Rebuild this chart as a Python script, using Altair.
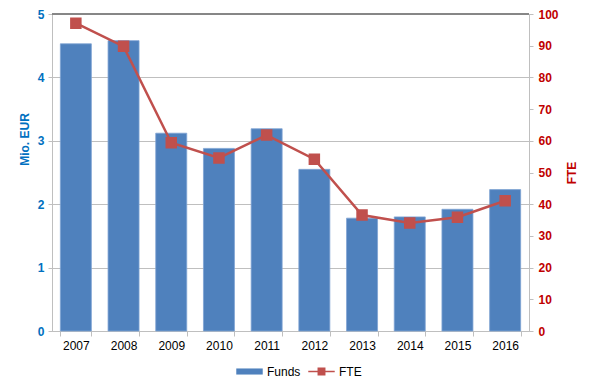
import altair as alt
import pandas as pd

years = ["2007", "2008", "2009", "2010", "2011", "2012", "2013", "2014", "2015", "2016"]
funds = [4.53, 4.58, 3.12, 2.88, 3.19, 2.55, 1.78, 1.80, 1.92, 2.23]
fte = [97.1, 89.8, 59.4, 54.6, 61.8, 54.2, 36.6, 34.1, 35.9, 41.1]

df = pd.DataFrame({"Year": years, "Funds": funds, "FTE": fte})

FONT = "Liberation Sans"
BLUE_TXT = "#0070C0"
RED_TXT = "#C00000"
BAR = "#4F81BD"
LINE = "#C0504D"

x = alt.X("Year:N", sort=years,
          scale=alt.Scale(paddingInner=0.35, paddingOuter=0.175),
          axis=alt.Axis(title=None, labelAngle=0, tickBand="extent", domainColor="#BFBFBF",
                        tickColor="#BFBFBF", tickSize=5, labelPadding=4, labelColor="#000000",
                        labelFontSize=12, labelFont=FONT, grid=False))

bars = alt.Chart(df).mark_bar(stroke="#7FA3D3", strokeWidth=0.8).encode(
    x=x,
    y=alt.Y("Funds:Q", scale=alt.Scale(domain=[0, 5], nice=False),
            axis=alt.Axis(title="Mio. EUR", values=[0, 1, 2, 3, 4, 5], format="d",
                          labelColor=BLUE_TXT, labelFontWeight="bold", labelFontSize=12,
                          labelFont=FONT, titleColor=BLUE_TXT, titleFontSize=12,
                          titleFont=FONT, titleFontWeight="bold", titlePadding=6,
                          titleY=125,
                          domainColor="#BFBFBF", tickColor="#BFBFBF", tickSize=4,
                          labelPadding=4, gridColor="#BFBFBF", grid=True)),
    fill=alt.Fill("lbl:N", scale=alt.Scale(domain=["Funds"], range=[BAR]),
                  legend=alt.Legend(title=None, orient="none", legendX=184, legendY=344,
                                    symbolType="M-1,-0.23H1V0.23H-1Z", symbolSize=700,
                                    symbolStrokeWidth=0, labelFontSize=12, labelFont=FONT,
                                    labelColor="#000000")),
).transform_calculate(lbl="'Funds'")

topline = alt.Chart(df).mark_rule(color="#868686", strokeWidth=1).encode(
    y=alt.datum(5, type="quantitative"),
)

left = alt.layer(bars, topline)

line = alt.Chart(df).mark_line(
    strokeWidth=2.5,
    point=alt.OverlayMarkDef(shape="square", filled=True, size=90, color=LINE, opacity=1),
).encode(
    x=alt.X("Year:N", sort=years),
    y=alt.Y("FTE:Q", scale=alt.Scale(domain=[0, 100], nice=False),
            axis=alt.Axis(title="FTE", orient="right", values=list(range(0, 101, 10)),
                          labelColor=RED_TXT, labelFontWeight="bold", labelFontSize=12,
                          labelFont=FONT, titleColor=RED_TXT, titleFontSize=12, titleFont=FONT,
                          titleFontWeight="bold", titleAngle=270, titlePadding=20,
                          domainColor="#BFBFBF", tickColor="#BFBFBF", tickSize=4,
                          labelPadding=5, grid=False)),
    stroke=alt.Stroke("lbl:N", scale=alt.Scale(domain=["FTE"], range=[LINE]),
                      legend=alt.Legend(title=None, orient="none", legendX=256, legendY=344,
                                        symbolType="M-1,-0.05H1V0.05H-1Z M-0.3,-0.3H0.3V0.3H-0.3Z",
                                        symbolSize=700, symbolFillColor=LINE,
                                        symbolStrokeWidth=0, labelFontSize=12, labelFont=FONT,
                                        labelColor="#000000")),
).transform_calculate(lbl="'FTE'")

chart = alt.layer(left, line).resolve_scale(y="independent", fill="independent",
                                             stroke="independent").properties(
    width=477, height=317,
    autosize=alt.AutoSizeParams(type="none"),
    padding={"left": 44, "top": 6, "right": 56, "bottom": 51},
).configure_view(stroke=None).configure(font=FONT)

chart.save("out.html", embed_options={"renderer": "svg", "actions": False})
